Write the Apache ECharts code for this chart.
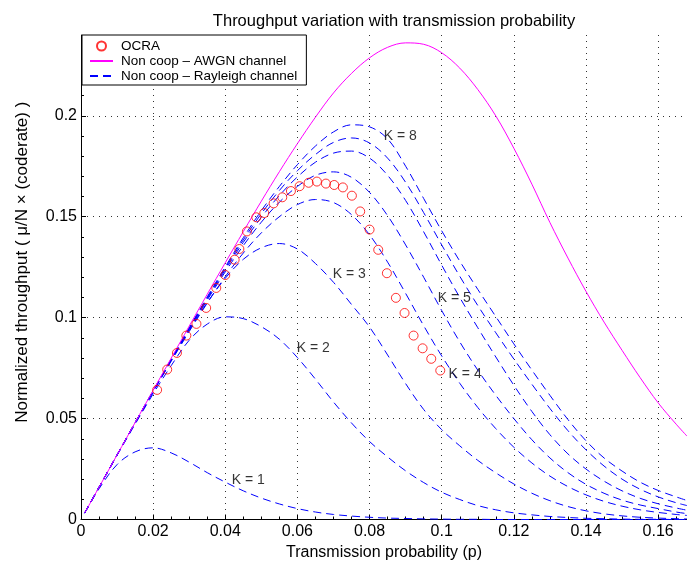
<!DOCTYPE html>
<html><head><meta charset="utf-8">
<script src="https://cdn.jsdelivr.net/npm/echarts@6/dist/echarts.min.js"></script>
<style>html,body{margin:0;padding:0;background:#fff}#c{width:687px;height:568px}</style>
</head><body><div id="c"></div>
<script>
const pGrid = [0.001,0.005,0.01,0.015,0.02,0.025,0.03,0.035,0.04,0.045,0.05,0.055,0.06,0.065,0.07,0.075,0.08,0.085,0.09,0.095,0.1,0.105,0.11,0.115,0.12,0.125,0.13,0.135,0.14,0.145,0.15,0.155,0.16,0.165,0.168];
const awgn = [0.0032,0.016,0.032,0.048,0.064,0.0799,0.0958,0.1116,0.1272,0.1426,0.1577,0.1723,0.1862,0.1993,0.2113,0.2210,0.2287,0.2339,0.2361,0.2354,0.2312,0.2236,0.2130,0.1999,0.1839,0.1661,0.1471,0.1295,0.1130,0.0978,0.0838,0.0703,0.0578,0.0472,0.0413];
const rayK1 = [0.0031,0.0152,0.0272,0.0335,0.0355,0.033,0.0284,0.0232,0.0185,0.0142,0.0106,0.0077,0.0054,0.0037,0.0025,0.0017,0.0011,0.0007,0.0005,0.0003,0.0002,0.0001,0.0001,0,0,0,0,0,0,0,0,0,0,0,0];
const rayK2 = [0.0032,0.016,0.0318,0.0472,0.0622,0.0762,0.0888,0.0968,0.1004,0.0995,0.0955,0.0893,0.0802,0.0695,0.0582,0.0478,0.0386,0.031,0.0241,0.0183,0.0135,0.0099,0.0069,0.0048,0.0033,0.0023,0.0015,0.001,0.0006,0.0004,0.0002,0.0001,0.0001,0,0];
const rayK3 = [0.0032,0.016,0.032,0.0478,0.0634,0.0787,0.0936,0.1075,0.1195,0.1289,0.1346,0.1367,0.134,0.1268,0.1175,0.1065,0.0953,0.0815,0.0673,0.0545,0.0445,0.0365,0.0293,0.0231,0.0176,0.013,0.0093,0.0064,0.0043,0.0028,0.0018,0.0011,0.0007,0.0004,0.0003];
const rayK4 = [0.0032,0.016,0.0319,0.0477,0.0632,0.0784,0.0931,0.1072,0.1203,0.132,0.142,0.15,0.156,0.1585,0.157,0.151,0.141,0.1275,0.112,0.096,0.081,0.0675,0.0555,0.045,0.0358,0.028,0.0215,0.0163,0.0122,0.009,0.0066,0.0048,0.0035,0.0025,0.002];
const rayK5 = [0.0032,0.016,0.032,0.0479,0.0635,0.0789,0.094,0.1087,0.1227,0.1357,0.1473,0.1572,0.165,0.1705,0.1722,0.1695,0.162,0.1505,0.136,0.12,0.1035,0.088,0.074,0.0615,0.05,0.0395,0.0305,0.0232,0.0174,0.013,0.0096,0.0072,0.0054,0.0037,0.0029];
const rayK6 = [0.0032,0.016,0.032,0.048,0.0636,0.0791,0.0944,0.1093,0.1237,0.1373,0.1497,0.1605,0.1697,0.177,0.1815,0.1825,0.179,0.1705,0.158,0.1425,0.126,0.11,0.095,0.0805,0.0665,0.0535,0.042,0.0325,0.025,0.019,0.0142,0.0105,0.0078,0.0057,0.0046];
const rayK7 = [0.0032,0.016,0.032,0.048,0.0637,0.0793,0.0947,0.1098,0.1245,0.1385,0.1515,0.163,0.1728,0.1808,0.1868,0.189,0.1865,0.179,0.167,0.152,0.136,0.1205,0.106,0.0925,0.0795,0.067,0.055,0.044,0.0345,0.0265,0.02,0.015,0.0112,0.0083,0.0069];
const rayK8 = [0.0032,0.016,0.032,0.048,0.0638,0.0795,0.095,0.1103,0.1252,0.1396,0.153,0.165,0.1758,0.185,0.192,0.1955,0.1945,0.1885,0.175,0.159,0.143,0.128,0.114,0.1005,0.087,0.074,0.0615,0.0495,0.039,0.0305,0.024,0.0185,0.0144,0.0112,0.0094];
const ocraP = [0.0211,0.0239,0.0266,0.0292,0.032,0.0347,0.0375,0.04,0.0426,0.0439,0.046,0.0486,0.0508,0.0534,0.0558,0.0582,0.0606,0.0631,0.0654,0.0679,0.0702,0.0726,0.0751,0.0774,0.08,0.0824,0.0848,0.0873,0.0897,0.0922,0.0947,0.0971,0.0996];
const ocraT = [0.0642,0.0743,0.0825,0.0911,0.0969,0.1048,0.1147,0.1211,0.1287,0.134,0.1427,0.1497,0.1518,0.1566,0.1596,0.1627,0.1651,0.1668,0.1674,0.1664,0.1657,0.1645,0.1604,0.1526,0.1436,0.1336,0.122,0.1098,0.1023,0.0911,0.0848,0.0796,0.0738];
const kLabelText = ['K = 1','K = 2','K = 3','K = 4','K = 5','K = 8'];
const kLabelP = [0.0464,0.0644,0.0744,0.1065,0.1035,0.0885];
const kLabelT = [0.0195,0.0848,0.1216,0.0721,0.1096,0.1898];

const FONT = 'Liberation Sans, Arial, Helvetica, sans-serif';
const NAME_OCRA = 'OCRA', NAME_AWGN = 'Non coop \u2013 AWGN channel', NAME_RAY = 'Non coop \u2013 Rayleigh channel';
const pair = (xs, ys) => xs.map((x, i) => [x, ys[i]]);
const rayAll = [rayK1, rayK2, rayK3, rayK4, rayK5, rayK6, rayK7, rayK8];

const series = [];
rayAll.forEach(arr => series.push({
  name: NAME_RAY, type: 'line', data: pair(pGrid, arr), showSymbol: false, symbol: 'none', smooth: 0.35,
  lineStyle: { color: '#0000ff', width: 1, type: [8, 5] }, itemStyle: { color: '#0000ff' }, z: 3
}));
series.push({
  name: NAME_AWGN, type: 'line', data: pair(pGrid, awgn), showSymbol: false, symbol: 'none', smooth: 0.35,
  lineStyle: { color: '#ff00ff', width: 1 }, itemStyle: { color: '#ff00ff' }, z: 4
});
series.push({
  name: NAME_OCRA, type: 'scatter', data: pair(ocraP, ocraT), symbol: 'circle', symbolSize: 9,
  itemStyle: { color: 'rgba(255,255,255,0)', borderColor: '#ff0000', borderWidth: 1 }, z: 5
});
series.push({
  name: 'labels', type: 'scatter', symbolSize: 1, silent: true,
  data: kLabelText.map((t, i) => ({ name: t, value: [kLabelP[i], kLabelT[i]] })),
  itemStyle: { color: 'rgba(0,0,0,0)' },
  label: { show: true, position: 'inside', formatter: p => p.name, color: '#000', fontSize: 14, fontFamily: FONT },
  z: 6
});

const axisCommon = {
  axisLine: { show: true, onZero: false, lineStyle: { color: '#000', width: 1 } },
  axisTick: { show: true, inside: true, length: 5, lineStyle: { color: '#000' } },
  splitLine: { show: true, showMinLine: false, showMaxLine: false, lineStyle: { color: '#333', width: 1, type: [1, 5] } },
};
const hiddenMark = { color: 'rgba(0,0,0,0)', borderWidth: 0, borderColor: 'rgba(0,0,0,0)' };

const chart = echarts.init(document.getElementById('c'), null, { renderer: 'canvas' });
chart.setOption({
  animation: false,
  backgroundColor: '#fff',
  title: { text: 'Throughput variation with transmission probability', left: 389, top: 8, textAlign: 'center',
    textStyle: { fontSize: 16.5, fontWeight: 'normal', color: '#000', fontFamily: FONT } },
  legend: {
    data: [
      { name: NAME_OCRA },
      { name: NAME_AWGN, itemStyle: hiddenMark },
      { name: NAME_RAY, itemStyle: hiddenMark }
    ],
    orient: 'vertical', left: 82, top: 35,
    backgroundColor: '#fff', borderColor: '#000', borderWidth: 1, borderRadius: 0,
    padding: [4, 9, 2, 7], itemGap: 1, itemWidth: 23, itemHeight: 9,
    textStyle: { fontSize: 13.5, color: '#000', fontFamily: FONT, lineHeight: 14, padding: [0, 0, 0, 3] },
    selectedMode: false, z: 10
  },
  grid: { left: 81, right: 0, top: 35, bottom: 48.5, containLabel: false, outerBoundsMode: 'none' },
  xAxis: Object.assign({}, axisCommon, {
    type: 'value', min: 0, max: 0.168, interval: 0.02,
    minorTick: { show: true, splitNumber: 4, length: 3, lineStyle: { color: '#000' } },
    axisLabel: { color: '#000', fontSize: 16, fontFamily: FONT, margin: 4, showMaxLabel: false },
    name: 'Transmission probability (p)', nameLocation: 'middle', nameGap: 24,
    nameTextStyle: { fontSize: 16, color: '#000', fontFamily: FONT }
  }),
  yAxis: Object.assign({}, axisCommon, {
    type: 'value', min: 0, max: 0.24, interval: 0.05,
    minorTick: { show: true, splitNumber: 5, length: 3, lineStyle: { color: '#000' } },
    axisLabel: { color: '#000', fontSize: 16, fontFamily: FONT, margin: 4, showMaxLabel: false },
    name: 'Normalized throughput ( \u03bc/N \u00d7 (coderate) )', nameLocation: 'middle', nameGap: 50,
    nameTextStyle: { fontSize: 17, color: '#000', fontFamily: FONT, padding: [0, 0, 0, 30] }
  }),
  series: series
});
</script></body></html>
